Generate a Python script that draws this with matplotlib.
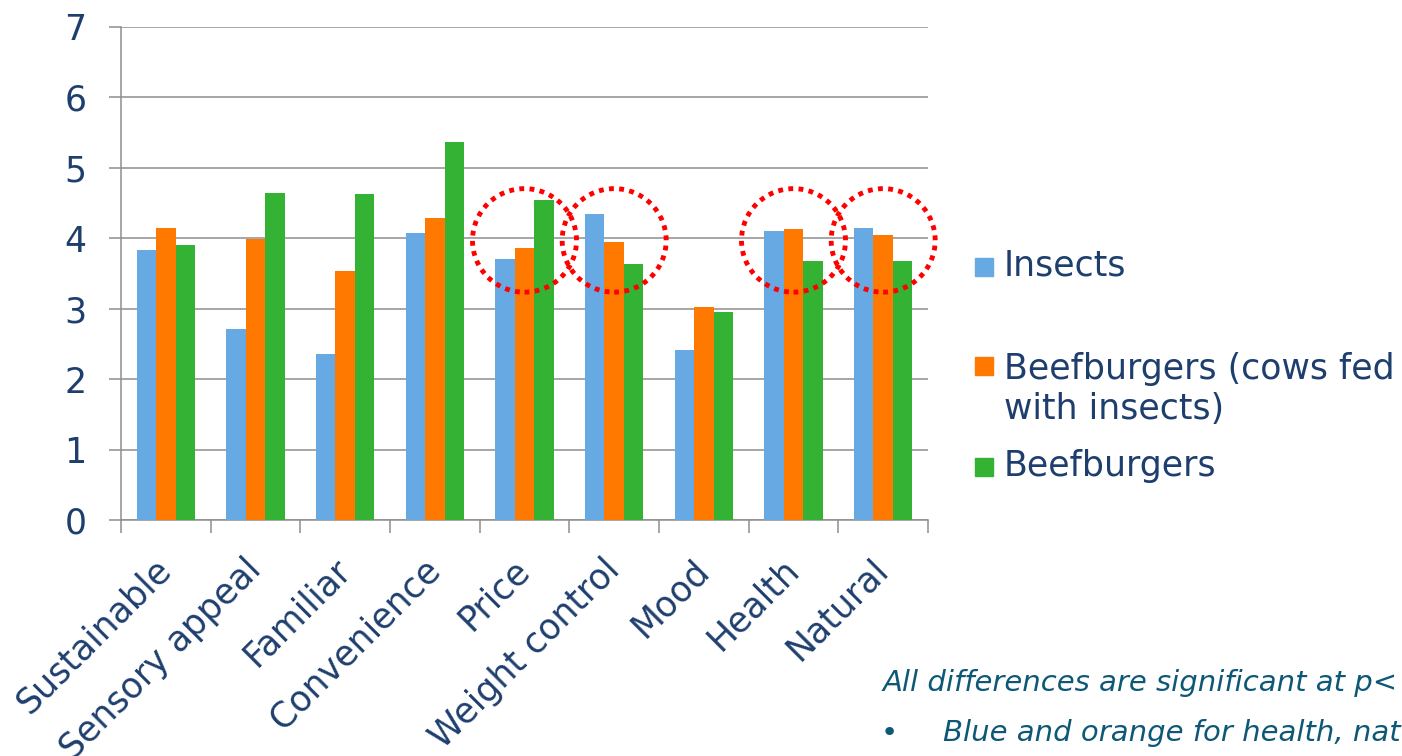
import matplotlib.pyplot as plt
import numpy as np
from matplotlib.patches import Ellipse, Rectangle

# Mean ratings per attribute
categories = ['Sustainable', 'Sensory appeal', 'Familiar', 'Convenience', 'Price',
              'Weight control', 'Mood', 'Health', 'Natural']
insects = [3.84, 2.71, 2.36, 4.07, 3.70, 4.35, 2.41, 4.11, 4.14]
beef_fed_insects = [4.15, 3.99, 3.54, 4.29, 3.86, 3.95, 3.03, 4.13, 4.05]
beefburgers = [3.91, 4.65, 4.63, 5.37, 4.55, 3.64, 2.95, 3.68, 3.68]

series_names = ['Insects', 'Beefburgers (cows fed\nwith insects)', 'Beefburgers']
highlighted = ['Price', 'Weight control', 'Health', 'Natural']

colors = ['#67A9E3', '#FF7800', '#34B234']
text_col = '#1E3F6E'
grid_col = '#8E8E8E'

W, H = 1402, 756
fig = plt.figure(figsize=(W / 100, H / 100), dpi=100)
ax = fig.add_axes([121 / W, 1 - 520 / H, (928 - 121) / W, (520 - 27) / H])

x = np.arange(len(categories))
bw = 0.218
for i, (vals, c) in enumerate(zip([insects, beef_fed_insects, beefburgers], colors)):
    ax.bar(x + (i - 1) * bw, vals, width=bw, color=c, zorder=3)

ax.set_xlim(-0.5, len(categories) - 0.5)
ax.set_ylim(0, 7)
ax.set_yticks(range(0, 8))
ax.yaxis.grid(True, color=grid_col, linewidth=1.1, zorder=0)
ax.set_axisbelow(True)
for s in ['top', 'right']:
    ax.spines[s].set_visible(False)
for s in ['left', 'bottom']:
    ax.spines[s].set_color(grid_col)
    ax.spines[s].set_linewidth(1.1)

ax.tick_params(axis='y', length=9, width=1.1, color=grid_col, pad=16,
               labelsize=25, labelcolor=text_col)

# labels at the centres, tick marks at the boundaries between groups
ax.set_xticks(x)
ax.set_xticklabels(categories)
ax.set_xticks(np.arange(-0.5, len(categories)), minor=True)
ax.tick_params(axis='x', which='major', length=0, pad=32, labelsize=25, labelcolor=text_col)
ax.tick_params(axis='x', which='minor', length=9, width=1.1, color=grid_col)
plt.setp(ax.get_xticklabels(), rotation=45, ha='right', va='center', rotation_mode='anchor')

# dotted red rings around the attributes called out in the text
for name in highlighted:
    cx = categories.index(name)
    ax.add_patch(Ellipse((cx, 3.97), 1.16, 1.47, fill=False, edgecolor='#FF0000',
                         linewidth=3.5, linestyle=(0, (1, 1.1)), zorder=5, clip_on=False))

# legend entries, placed by hand (square top, first baseline)
leg_rows = [(258, 276), (357, 379), (458, 476)]
for (top, base), name, c in zip(leg_rows, series_names, colors):
    fig.add_artist(Rectangle((975 / W, 1 - (top + 18) / H), 18 / W, 18 / H,
                             transform=fig.transFigure, color=c))
    for k, line in enumerate(name.split('\n')):
        fig.text(1004 / W, 1 - (base + 40 * k) / H, line, fontsize=25, color=text_col,
                 va='baseline', ha='left')

# footnote
note_col = '#0D5877'
fig.text(883 / W, 1 - 683 / H, 'All differences are significant at p<', fontsize=21,
         style='italic', color=note_col, va='center', ha='left')
fig.text(881 / W, 1 - 733 / H, '•', fontsize=21, color=note_col, va='center', ha='left')
fig.text(943 / W, 1 - 733 / H, 'Blue and orange for health, nat', fontsize=21,
         style='italic', color=note_col, va='center', ha='left')

fig.savefig('out.png', dpi=100)
